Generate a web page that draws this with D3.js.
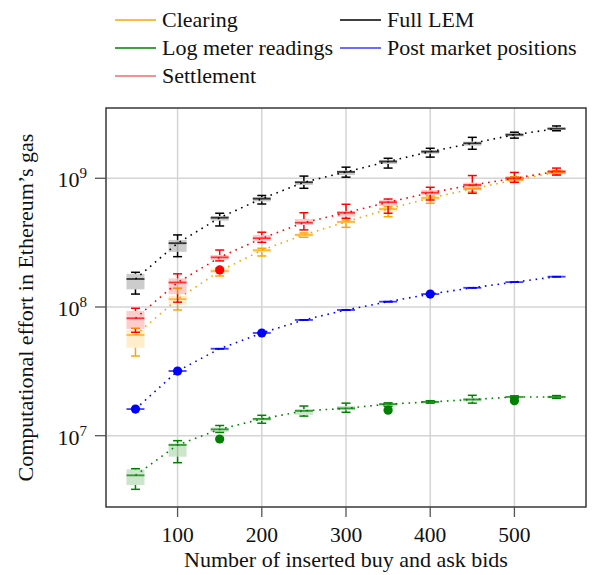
<!DOCTYPE html>
<html>
<head>
<meta charset="utf-8">
<script src="https://cdn.jsdelivr.net/npm/d3@7/dist/d3.min.js"></script>
<style>
  body { margin: 0; background: #fff; }
  text { font-family: "Liberation Serif", "Times New Roman", serif; fill: #111; }
</style>
</head>
<body>
<div id="chart"></div>
<script>
// number of inserted bids (x positions of the box plots)
const bids = [50, 100, 150, 200, 250, 300, 350, 400, 450, 500, 550]

// box plots per series: [lower whisker, q1, median, q3, upper whisker]
const clearingBoxes = [
  [4.16e7, 4.83e7, 6.06e7, 6.63e7, 6.83e7],
  [9.48e7, 1.04e8, 1.15e8, 1.22e8, 1.40e8],
  [1.74e8, 1.83e8, 1.90e8, 2.00e8, 2.02e8],
  [2.49e8, 2.66e8, 2.76e8, 2.82e8, 2.86e8],
  [3.48e8, 3.52e8, 3.63e8, 3.74e8, 3.76e8],
  [4.16e8, 4.47e8, 4.58e8, 4.68e8, 4.74e8],
  [5.03e8, 5.50e8, 5.77e8, 5.95e8, 6.02e8],
  [6.39e8, 6.78e8, 7.03e8, 7.29e8, 7.29e8],
  [7.83e8, 8.01e8, 8.26e8, 8.60e8, 8.79e8],
  [9.28e8, 9.48e8, 9.70e8, 1.02e9, 1.03e9],
  [1.06e9, 1.08e9, 1.11e9, 1.14e9, 1.15e9],
]
const logMeterBoxes = [
  [3.83e6, 4.14e6, 4.92e6, 5.48e6, 5.54e6],
  [6.17e6, 6.87e6, 8.47e6, 8.73e6, 9.15e6],
  [1.06e7, 1.07e7, 1.12e7, 1.16e7, 1.20e7],
  [1.25e7, 1.30e7, 1.35e7, 1.38e7, 1.44e7],
  [1.42e7, 1.45e7, 1.56e7, 1.61e7, 1.70e7],
  [1.52e7, 1.58e7, 1.63e7, 1.70e7, 1.79e7],
  [1.69e7, 1.70e7, 1.76e7, 1.79e7, 1.80e7],
  [1.79e7, 1.79e7, 1.83e7, 1.87e7, 1.87e7],
  [1.79e7, 1.84e7, 1.91e7, 1.97e7, 2.06e7],
  [1.96e7, 1.98e7, 2.00e7, 2.02e7, 2.04e7],
  [1.95e7, 1.95e7, 2.00e7, 2.05e7, 2.05e7],
]
const settlementBoxes = [
  [6.36e7, 6.75e7, 8.17e7, 9.31e7, 9.77e7],
  [1.09e8, 1.26e8, 1.55e8, 1.67e8, 1.81e8],
  [2.28e8, 2.32e8, 2.43e8, 2.54e8, 2.77e8],
  [3.18e8, 3.26e8, 3.42e8, 3.63e8, 3.81e8],
  [3.97e8, 4.34e8, 4.52e8, 4.83e8, 5.40e8],
  [4.89e8, 5.03e8, 5.40e8, 5.57e8, 6.28e8],
  [5.35e8, 6.09e8, 6.51e8, 6.78e8, 6.90e8],
  [6.78e8, 7.42e8, 7.73e8, 8.11e8, 8.51e8],
  [7.65e8, 8.21e8, 8.87e8, 9.24e8, 1.05e9],
  [9.31e8, 9.70e8, 1.00e9, 1.04e9, 1.11e9],
  [1.06e9, 1.08e9, 1.13e9, 1.16e9, 1.20e9],
]
const fullLemBoxes = [
  [1.26e8, 1.37e8, 1.65e8, 1.81e8, 1.86e8],
  [2.46e8, 2.68e8, 3.13e8, 3.32e8, 3.63e8],
  [4.26e8, 4.68e8, 4.94e8, 5.09e8, 5.35e8],
  [6.31e8, 6.60e8, 6.94e8, 7.16e8, 7.35e8],
  [8.36e8, 8.87e8, 9.31e8, 9.53e8, 1.04e9],
  [1.02e9, 1.06e9, 1.12e9, 1.15e9, 1.22e9],
  [1.20e9, 1.29e9, 1.35e9, 1.39e9, 1.43e9],
  [1.46e9, 1.55e9, 1.61e9, 1.66e9, 1.71e9],
  [1.68e9, 1.79e9, 1.87e9, 1.93e9, 2.08e9],
  [2.05e9, 2.11e9, 2.18e9, 2.24e9, 2.28e9],
  [2.34e9, 2.37e9, 2.43e9, 2.49e9, 2.55e9],
]
// post market positions has (almost) no spread
const postMarketValues = [1.61e7, 3.18e7, 4.74e7, 6.28e7, 7.93e7, 9.48e7, 1.10e8, 1.26e8, 1.41e8, 1.56e8, 1.72e8]

// single filled markers
const settlementDots = [[150, 1.94e8]]
const postMarketDots = [[50, 1.61e7], [100, 3.18e7], [200, 6.28e7], [400, 1.26e8]]
const logMeterDots = [[150, 9.43e6], [350, 1.58e7], [500, 1.87e7]]

const xTicks = [100, 200, 300, 400, 500]
const yTicks = [1e7, 1e8, 1e9]
const yTickExponents = ["7", "8", "9"]

function drawChart() {

  const series = [
    { name: "Clearing", color: "#ffa500", boxes: clearingBoxes, dots: [], legend: [0, 0] },
    { name: "Log meter readings", color: "#008000", boxes: logMeterBoxes, dots: logMeterDots, legend: [0, 1] },
    { name: "Settlement", color: "#ff0000", legendColor: "#f26d6d", boxes: settlementBoxes, dots: settlementDots, legend: [0, 2] },
    { name: "Full LEM", color: "#000000", boxes: fullLemBoxes, dots: [], legend: [1, 0] },
    { name: "Post market positions", color: "#0000ff", legendColor: "#3a3aff",
      boxes: postMarketValues.map(v => [v, v, v, v, v]), dots: postMarketDots, legend: [1, 1] },
  ]

  const dimensions = {
    width: 592,
    height: 575,
    margin: { top: 108, right: 6, bottom: 68, left: 106 },
  }
  dimensions.boundedWidth = dimensions.width - dimensions.margin.left - dimensions.margin.right
  dimensions.boundedHeight = dimensions.height - dimensions.margin.top - dimensions.margin.bottom

  const wrapper = d3.select("#chart")
    .append("svg")
      .attr("width", dimensions.width)
      .attr("height", dimensions.height)

  const bounds = wrapper.append("g")
    .attr("transform", `translate(${dimensions.margin.left},${dimensions.margin.top})`)

  const xScale = d3.scaleLinear()
    .domain([15, 585])
    .range([0, dimensions.boundedWidth])

  const yScale = d3.scaleLog()
    .domain([Math.pow(10, 6.446), Math.pow(10, 9.546)])
    .range([dimensions.boundedHeight, 0])

  // grid
  bounds.append("g")
    .selectAll("line")
    .data(xTicks)
    .join("line")
      .attr("x1", d => xScale(d))
      .attr("x2", d => xScale(d))
      .attr("y1", 0)
      .attr("y2", dimensions.boundedHeight)
      .attr("stroke", "#d4d4d4")
      .attr("stroke-width", 1.5)
  bounds.append("g")
    .selectAll("line")
    .data(yTicks)
    .join("line")
      .attr("x1", 0)
      .attr("x2", dimensions.boundedWidth)
      .attr("y1", d => yScale(d))
      .attr("y2", d => yScale(d))
      .attr("stroke", "#d4d4d4")
      .attr("stroke-width", 1.5)

  const boxHalf = 9
  const capHalf = 4.5

  // boxes, whiskers, medians
  series.forEach(s => {
    const g = bounds.append("g")
    const rows = s.boxes.map((b, i) => ({ x: bids[i], lo: b[0], q1: b[1], med: b[2], q3: b[3], hi: b[4] }))

    g.selectAll(".box")
      .data(rows)
      .join("rect")
        .attr("x", d => xScale(d.x) - boxHalf)
        .attr("width", boxHalf * 2)
        .attr("y", d => yScale(d.q3))
        .attr("height", d => yScale(d.q1) - yScale(d.q3))
        .attr("fill", s.color)
        .attr("fill-opacity", 0.2)

    const whisker = g.selectAll(".whisker")
      .data(rows)
      .join("g")
        .attr("stroke", s.color)
        .attr("stroke-width", 1.5)
    whisker.append("line")
      .attr("x1", d => xScale(d.x)).attr("x2", d => xScale(d.x))
      .attr("y1", d => yScale(d.hi)).attr("y2", d => yScale(d.q3))
    whisker.append("line")
      .attr("x1", d => xScale(d.x)).attr("x2", d => xScale(d.x))
      .attr("y1", d => yScale(d.q1)).attr("y2", d => yScale(d.lo))
    whisker.append("line")
      .attr("x1", d => xScale(d.x) - capHalf).attr("x2", d => xScale(d.x) + capHalf)
      .attr("y1", d => yScale(d.hi)).attr("y2", d => yScale(d.hi))
    whisker.append("line")
      .attr("x1", d => xScale(d.x) - capHalf).attr("x2", d => xScale(d.x) + capHalf)
      .attr("y1", d => yScale(d.lo)).attr("y2", d => yScale(d.lo))

    g.selectAll(".median")
      .data(rows)
      .join("line")
        .attr("x1", d => xScale(d.x) - boxHalf)
        .attr("x2", d => xScale(d.x) + boxHalf)
        .attr("y1", d => yScale(d.med))
        .attr("y2", d => yScale(d.med))
        .attr("stroke", s.color)
        .attr("stroke-opacity", 0.75)
        .attr("stroke-width", 1.8)
  })

  // dotted lines through the medians
  const lineGenerator = d3.line()
    .x(d => xScale(d.x))
    .y(d => yScale(d.med))
  series.forEach(s => {
    bounds.append("path")
      .attr("d", lineGenerator(s.boxes.map((b, i) => ({ x: bids[i], med: b[2] }))))
      .attr("fill", "none")
      .attr("stroke", s.color)
      .attr("stroke-width", 1.6)
      .attr("stroke-dasharray", "1.6 4.8")
  })

  // filled markers
  series.forEach(s => {
    bounds.append("g")
      .selectAll("circle")
      .data(s.dots)
      .join("circle")
        .attr("cx", d => xScale(d[0]))
        .attr("cy", d => yScale(d[1]))
        .attr("r", 4.6)
        .attr("fill", s.color)
  })

  // frame
  bounds.append("rect")
    .attr("width", dimensions.boundedWidth)
    .attr("height", dimensions.boundedHeight)
    .attr("fill", "none")
    .attr("stroke", "#2a2a2a")
    .attr("stroke-width", 1.4)

  // x ticks
  const xTickG = bounds.append("g")
    .selectAll("g")
    .data(xTicks)
    .join("g")
      .attr("transform", d => `translate(${xScale(d)},${dimensions.boundedHeight})`)
  xTickG.append("line")
    .attr("y1", 0).attr("y2", 10)
    .attr("stroke", "#555").attr("stroke-width", 1.3)
  xTickG.append("text")
    .attr("y", 35)
    .attr("text-anchor", "middle")
    .style("font-size", "21.5px")
    .text(d => d)

  // y ticks
  const yTickG = bounds.append("g")
    .selectAll("g")
    .data(yTicks)
    .join("g")
      .attr("transform", d => `translate(0,${yScale(d)})`)
  yTickG.append("line")
    .attr("x1", 0).attr("x2", -11)
    .attr("stroke", "#555").attr("stroke-width", 1.3)
  const yLabel = yTickG.append("text")
    .attr("x", -19)
    .attr("y", 9)
    .attr("text-anchor", "end")
    .style("font-size", "22px")
  yLabel.append("tspan").text("10")
  yLabel.append("tspan")
    .attr("dy", -9)
    .style("font-size", "15px")
    .text((d, i) => yTickExponents[i])

  // axis titles
  bounds.append("text")
    .attr("x", dimensions.boundedWidth / 2)
    .attr("y", dimensions.boundedHeight + 60)
    .attr("text-anchor", "middle")
    .style("font-size", "22px")
    .text("Number of inserted buy and ask bids")

  bounds.append("text")
    .attr("transform", `translate(${33 - dimensions.margin.left},${dimensions.boundedHeight / 2}) rotate(-90)`)
    .attr("text-anchor", "middle")
    .style("font-size", "22px")
    .text("Computational effort in Ethereum’s gas")

  // legend
  const legendCols = [115, 340]
  const legendRows = [20, 48, 76]
  const legendItem = wrapper.append("g")
    .selectAll("g")
    .data(series)
    .join("g")
      .attr("transform", d => `translate(${legendCols[d.legend[0]]},${legendRows[d.legend[1]]})`)
  legendItem.append("line")
    .attr("x1", 0).attr("x2", 41)
    .attr("stroke", d => d.legendColor || d.color)
    .attr("stroke-width", 1.3)
  legendItem.append("text")
    .attr("x", 47)
    .attr("y", 7)
    .style("font-size", "22px")
    .text(d => d.name)
}

drawChart()
</script>
</body>
</html>
